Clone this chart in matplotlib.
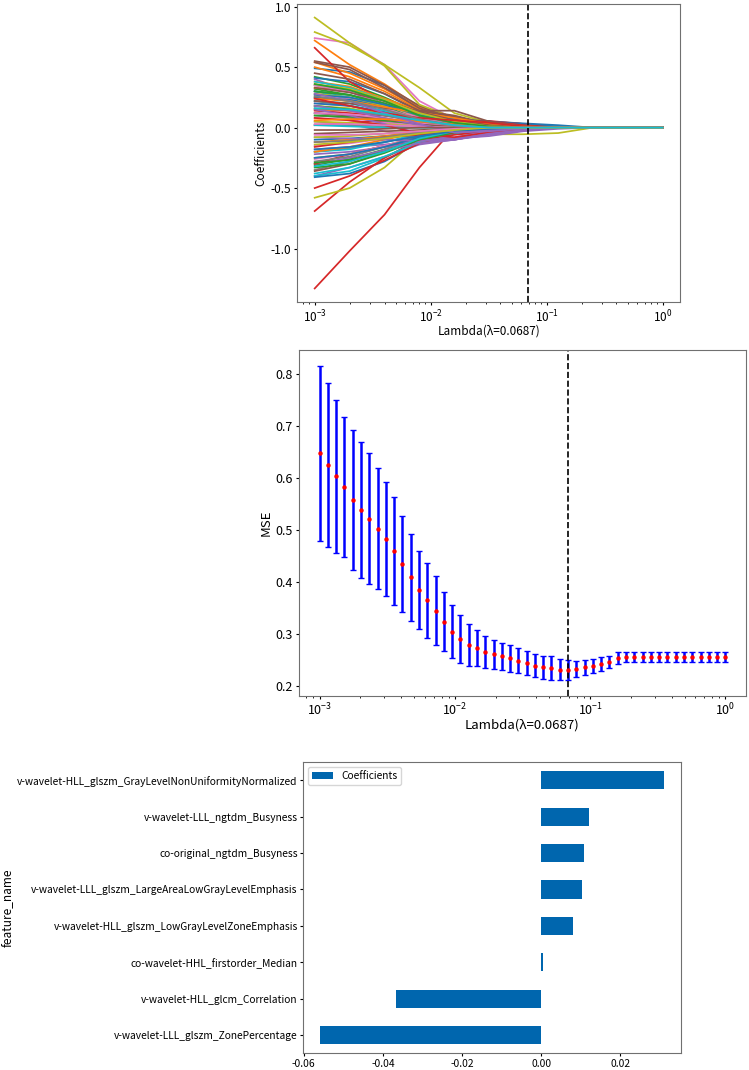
import matplotlib
matplotlib.use("Agg")
import matplotlib.pyplot as plt
from matplotlib import font_manager

plt.rcParams['font.family'] = ['Noto Sans CJK SC', 'DejaVu Sans']
plt.rcParams['axes.unicode_minus'] = False

# ---------------- data: coefficient paths (top panel) ----------------
path_lambdas = [0.001, 0.002, 0.004, 0.008, 0.016, 0.032, 0.063, 0.126, 0.251, 1.0]

paths_block1 = [
    [0.49, 0.46, 0.35, 0.15, 0.08, 0.05, 0.035, 0.02, 0.0, 0.0],
    [0.72, 0.52, 0.36, 0.17, 0.07, 0.03, 0.01, 0.0, 0.0, 0.0],
    [0.42, 0.36, 0.25, 0.12, 0.05, 0.02, 0.0, 0.0, 0.0, 0.0],
    [-1.33, -1.02, -0.72, -0.33, 0.0, 0.0, 0.0, 0.0, 0.0, 0.0],
    [-0.40, -0.33, -0.24, -0.14, -0.10, -0.05, -0.02, 0.0, 0.0, 0.0],
    [0.55, 0.50, 0.35, 0.18, 0.07, 0.02, 0.0, 0.0, 0.0, 0.0],
    [0.74, 0.70, 0.52, 0.22, 0.07, 0.03, 0.01, 0.0, 0.0, 0.0],
    [0.10, 0.08, 0.05, 0.02, 0.0, 0.0, 0.0, 0.0, 0.0, 0.0],
    [0.91, 0.70, 0.51, 0.19, 0.08, 0.047, 0.02, 0.005, 0.0, 0.0],
    [-0.40, -0.36, -0.25, -0.10, -0.04, -0.01, 0.0, 0.0, 0.0, 0.0],
]
paths_block2 = [
    [0.41, 0.38, 0.28, 0.13, 0.06, 0.03, 0.01, 0.0, 0.0, 0.0],
    [0.54, 0.45, 0.32, 0.16, 0.06, 0.02, 0.0, 0.0, 0.0, 0.0],
    [-0.31, -0.26, -0.18, -0.09, -0.03, 0.0, 0.0, 0.0, 0.0, 0.0],
    [-0.69, -0.45, -0.25, -0.10, -0.04, -0.01, 0.0, 0.0, 0.0, 0.0],
    [0.40, 0.30, 0.18, 0.07, 0.02, 0.0, 0.0, 0.0, 0.0, 0.0],
    [0.30, 0.24, 0.18, 0.14, 0.10, 0.03, 0.01, 0.0, 0.0, 0.0],
    [0.20, 0.18, 0.12, 0.06, 0.02, 0.0, 0.0, 0.0, 0.0, 0.0],
    [-0.35, -0.28, -0.18, -0.08, -0.03, 0.0, 0.0, 0.0, 0.0, 0.0],
    [-0.58, -0.50, -0.33, -0.08, -0.05, -0.055, -0.055, -0.045, 0.0, 0.0],
    [0.30, 0.25, 0.17, 0.08, 0.03, 0.01, 0.0, 0.0, 0.0, 0.0],
]
paths_block3 = [
    [0.30, 0.27, 0.20, 0.10, 0.05, 0.04, 0.03, 0.0, 0.0, 0.0],
    [0.50, 0.42, 0.30, 0.15, 0.07, 0.03, 0.01, 0.0, 0.0, 0.0],
    [0.32, 0.27, 0.18, 0.08, 0.03, 0.01, 0.0, 0.0, 0.0, 0.0],
    [0.66, 0.38, 0.22, 0.10, 0.04, 0.01, 0.0, 0.0, 0.0, 0.0],
    [-0.22, -0.20, -0.16, -0.12, -0.09, -0.04, -0.01, 0.0, 0.0, 0.0],
    [-0.36, -0.30, -0.20, -0.10, -0.04, -0.01, 0.0, 0.0, 0.0, 0.0],
    [-0.15, -0.13, -0.09, -0.05, -0.02, 0.0, 0.0, 0.0, 0.0, 0.0],
    [0.22, 0.18, 0.12, 0.06, 0.02, 0.0, 0.0, 0.0, 0.0, 0.0],
    [0.79, 0.68, 0.52, 0.33, 0.12, 0.04, 0.015, 0.005, 0.0, 0.0],
    [0.12, 0.10, 0.07, 0.03, 0.01, 0.0, 0.0, 0.0, 0.0, 0.0],
]
paths_block4 = [
    [-0.41, -0.38, -0.28, -0.12, -0.05, -0.02, 0.0, 0.0, 0.0, 0.0],
    [0.33, 0.30, 0.22, 0.12, 0.06, 0.02, 0.0, 0.0, 0.0, 0.0],
    [0.25, 0.22, 0.16, 0.08, 0.03, 0.01, 0.0, 0.0, 0.0, 0.0],
    [-0.50, -0.40, -0.27, -0.13, -0.05, -0.02, 0.0, 0.0, 0.0, 0.0],
    [0.05, 0.03, -0.03, -0.08, -0.10, -0.06, -0.02, 0.0, 0.0, 0.0],
    [0.54, 0.48, 0.33, 0.16, 0.07, 0.02, 0.0, 0.0, 0.0, 0.0],
    [0.08, 0.06, 0.04, 0.02, 0.01, 0.0, 0.0, 0.0, 0.0, 0.0],
    [-0.20, -0.17, -0.12, -0.06, -0.02, 0.0, 0.0, 0.0, 0.0, 0.0],
    [-0.25, -0.22, -0.15, -0.07, -0.03, 0.0, 0.0, 0.0, 0.0, 0.0],
    [-0.38, -0.33, -0.24, -0.12, -0.05, -0.02, 0.0, 0.0, 0.0, 0.0],
]
paths_block5 = [
    [0.20, 0.18, 0.13, 0.07, 0.03, 0.01, 0.0, 0.0, 0.0, 0.0],
    [0.15, 0.14, 0.12, 0.10, 0.06, 0.02, 0.0, 0.0, 0.0, 0.0],
    [-0.33, -0.30, -0.21, -0.10, -0.04, -0.01, 0.0, 0.0, 0.0, 0.0],
    [0.02, 0.04, 0.06, 0.07, 0.06, 0.055, 0.03, 0.0, 0.0, 0.0],
    [-0.30, -0.25, -0.19, -0.13, -0.10, -0.05, -0.015, 0.0, 0.0, 0.0],
    [-0.05, -0.04, -0.03, -0.02, -0.01, 0.0, 0.0, 0.0, 0.0, 0.0],
    [0.28, 0.24, 0.16, 0.07, 0.02, 0.0, 0.0, 0.0, 0.0, 0.0],
    [0.35, 0.30, 0.20, 0.09, 0.03, 0.01, 0.0, 0.0, 0.0, 0.0],
    [0.18, 0.16, 0.11, 0.05, 0.02, 0.0, 0.0, 0.0, 0.0, 0.0],
    [0.22, 0.20, 0.14, 0.06, 0.02, 0.0, 0.0, 0.0, 0.0, 0.0],
]
paths_block6 = [
    [-0.10, -0.09, -0.07, -0.04, -0.02, -0.01, 0.0, 0.0, 0.0, 0.0],
    [0.38, 0.34, 0.24, 0.14, 0.08, 0.04, 0.01, 0.0, 0.0, 0.0],
    [0.10, 0.09, 0.06, 0.03, 0.01, 0.0, 0.0, 0.0, 0.0, 0.0],
    [-0.30, -0.22, -0.15, -0.10, -0.06, -0.03, -0.01, 0.0, 0.0, 0.0],
    [-0.18, -0.16, -0.14, -0.11, -0.08, -0.03, 0.0, 0.0, 0.0, 0.0],
    [0.12, 0.10, 0.07, 0.03, 0.01, 0.0, 0.0, 0.0, 0.0, 0.0],
    [-0.26, -0.22, -0.15, -0.07, -0.02, 0.0, 0.0, 0.0, 0.0, 0.0],
    [0.02, 0.02, 0.01, 0.0, 0.0, 0.0, 0.0, 0.0, 0.0, 0.0],
    [0.05, 0.04, 0.03, 0.01, 0.0, 0.0, 0.0, 0.0, 0.0, 0.0],
    [-0.20, -0.18, -0.12, -0.05, -0.02, 0.0, 0.0, 0.0, 0.0, 0.0],
]
paths_block7 = [
    [0.25, 0.23, 0.18, 0.11, 0.07, 0.05, 0.03, 0.01, 0.0, 0.0],
    [-0.12, -0.10, -0.07, -0.04, -0.02, 0.0, 0.0, 0.0, 0.0, 0.0],
    [0.18, 0.15, 0.10, 0.05, 0.02, 0.0, 0.0, 0.0, 0.0, 0.0],
    [0.14, 0.12, 0.10, 0.08, 0.06, 0.05, 0.02, 0.0, 0.0, 0.0],
    [0.15, 0.10, 0.03, -0.05, -0.09, -0.07, -0.03, -0.01, 0.0, 0.0],
    [0.22, 0.20, 0.16, 0.14, 0.09, 0.03, 0.01, 0.0, 0.0, 0.0],
    [0.35, 0.30, 0.19, 0.08, 0.02, 0.0, 0.0, 0.0, 0.0, 0.0],
    [-0.28, -0.24, -0.16, -0.07, -0.02, 0.0, 0.0, 0.0, 0.0, 0.0],
    [0.28, 0.25, 0.18, 0.10, 0.04, 0.01, 0.0, 0.0, 0.0, 0.0],
    [0.02, 0.01, 0.0, 0.0, 0.0, 0.0, 0.0, 0.0, 0.0, 0.0],
]
paths_block8 = [
    [-0.25, -0.22, -0.16, -0.08, -0.03, 0.0, 0.0, 0.0, 0.0, 0.0],
    [-0.20, -0.16, -0.10, -0.04, -0.01, 0.0, 0.0, 0.0, 0.0, 0.0],
    [0.30, 0.27, 0.20, 0.11, 0.05, 0.02, 0.0, 0.0, 0.0, 0.0],
    [0.08, 0.06, 0.02, -0.05, -0.08, -0.04, -0.01, 0.0, 0.0, 0.0],
    [-0.08, -0.09, -0.10, -0.11, -0.10, -0.05, -0.02, 0.0, 0.0, 0.0],
    [0.45, 0.40, 0.28, 0.14, 0.14, 0.05, 0.01, 0.0, 0.0, 0.0],
    [0.12, 0.11, 0.08, 0.04, 0.02, 0.0, 0.0, 0.0, 0.0, 0.0],
    [0.16, 0.14, 0.10, 0.05, 0.02, 0.0, 0.0, 0.0, 0.0, 0.0],
    [-0.08, -0.07, -0.05, -0.03, -0.01, 0.0, 0.0, 0.0, 0.0, 0.0],
    [0.38, 0.33, 0.23, 0.11, 0.04, 0.01, 0.0, 0.0, 0.0, 0.0],
]
paths_block9 = [
    [0.27, 0.25, 0.19, 0.10, 0.04, 0.01, 0.0, 0.0, 0.0, 0.0],
    [0.24, 0.22, 0.17, 0.12, 0.08, 0.03, 0.01, 0.0, 0.0, 0.0],
    [-0.29, -0.27, -0.20, -0.10, -0.04, -0.01, 0.0, 0.0, 0.0, 0.0],
    [-0.16, -0.12, -0.08, -0.06, -0.04, -0.02, 0.0, 0.0, 0.0, 0.0],
    [0.18, 0.14, 0.08, 0.02, -0.03, -0.02, 0.0, 0.0, 0.0, 0.0],
    [0.33, 0.29, 0.22, 0.13, 0.06, 0.02, 0.0, 0.0, 0.0, 0.0],
    [0.03, 0.03, 0.02, 0.01, 0.0, 0.0, 0.0, 0.0, 0.0, 0.0],
    [-0.12, -0.11, -0.08, -0.04, -0.01, 0.0, 0.0, 0.0, 0.0, 0.0],
    [0.36, 0.32, 0.23, 0.12, 0.05, 0.01, 0.0, 0.0, 0.0, 0.0],
    [-0.32, -0.28, -0.20, -0.09, -0.03, 0.0, 0.0, 0.0, 0.0, 0.0],
]
paths_block10 = [
    [-0.18, -0.16, -0.12, -0.07, -0.03, -0.01, 0.0, 0.0, 0.0, 0.0],
    [0.06, 0.07, 0.07, 0.05, 0.03, 0.01, 0.0, 0.0, 0.0, 0.0],
    [0.36, 0.31, 0.22, 0.10, 0.04, 0.01, 0.0, 0.0, 0.0, 0.0],
    [0.24, 0.18, 0.12, 0.08, 0.06, 0.04, 0.01, 0.0, 0.0, 0.0],
    [0.28, 0.22, 0.12, 0.03, -0.04, -0.03, -0.01, 0.0, 0.0, 0.0],
    [-0.02, -0.02, -0.01, 0.0, 0.0, 0.0, 0.0, 0.0, 0.0, 0.0],
    [-0.06, -0.06, -0.05, -0.03, -0.01, 0.0, 0.0, 0.0, 0.0, 0.0],
    [0.26, 0.22, 0.15, 0.07, 0.02, 0.0, 0.0, 0.0, 0.0, 0.0],
    [-0.14, -0.12, -0.09, -0.05, -0.02, 0.0, 0.0, 0.0, 0.0, 0.0],
    [0.16, 0.15, 0.11, 0.06, 0.02, 0.0, 0.0, 0.0, 0.0, 0.0],
]

best_lambda = 0.0687

# ---------------- data: cross-validation MSE (middle panel) ----------------
cv_lambdas = [
    0.001, 0.001151, 0.001326, 0.001526, 0.001758, 0.002024, 0.002330, 0.002683,
    0.003089, 0.003556, 0.004095, 0.004715, 0.005429, 0.006251, 0.007197, 0.008286,
    0.009541, 0.010985, 0.012649, 0.014563, 0.016768, 0.019307, 0.022230, 0.025595,
    0.029471, 0.033932, 0.039069, 0.044984, 0.051795, 0.059636, 0.068665, 0.079060,
    0.091030, 0.104811, 0.120679, 0.138950, 0.159986, 0.184207, 0.212095, 0.244205,
    0.281177, 0.323746, 0.372759, 0.429193, 0.494171, 0.568987, 0.655129, 0.754312,
    0.868511, 1.0,
]
mse_mean = [
    0.648, 0.625, 0.604, 0.583, 0.558, 0.539, 0.522, 0.503, 0.483, 0.460,
    0.435, 0.409, 0.385, 0.365, 0.345, 0.324, 0.305, 0.290, 0.279, 0.273,
    0.266, 0.261, 0.258, 0.254, 0.249, 0.244, 0.239, 0.236, 0.235, 0.232,
    0.231, 0.233, 0.236, 0.239, 0.243, 0.247, 0.254, 0.256, 0.256, 0.256,
    0.256, 0.256, 0.256, 0.256, 0.256, 0.256, 0.256, 0.256, 0.256, 0.256,
]
mse_std = [
    0.168, 0.157, 0.147, 0.135, 0.135, 0.131, 0.126, 0.117, 0.110, 0.103,
    0.092, 0.083, 0.075, 0.072, 0.066, 0.057, 0.051, 0.046, 0.041, 0.035,
    0.031, 0.028, 0.026, 0.026, 0.024, 0.023, 0.022, 0.022, 0.023, 0.020,
    0.019, 0.016, 0.014, 0.013, 0.013, 0.012, 0.012, 0.010, 0.010, 0.010,
    0.010, 0.010, 0.010, 0.010, 0.010, 0.010, 0.010, 0.010, 0.010, 0.010,
]

# ---------------- data: selected features (bottom panel) ----------------
feature_names = [
    "v-wavelet-LLL_glszm_ZonePercentage",
    "v-wavelet-HLL_glcm_Correlation",
    "co-wavelet-HHL_firstorder_Median",
    "v-wavelet-HLL_glszm_LowGrayLevelZoneEmphasis",
    "v-wavelet-LLL_glszm_LargeAreaLowGrayLevelEmphasis",
    "co-original_ngtdm_Busyness",
    "v-wavelet-LLL_ngtdm_Busyness",
    "v-wavelet-HLL_glszm_GrayLevelNonUniformityNormalized",
]
feature_coefs = [-0.0558, -0.0366, 0.0005, 0.0079, 0.0102, 0.0107, 0.0121, 0.0309]

# ---------------- figure ----------------
W, H = 749, 1070
fig = plt.figure(figsize=(W / 100, H / 100), dpi=100)

def rect(l, t, r, b):
    return [l / W, (H - b) / H, (r - l) / W, (b - t) / H]

spine_col = '#707070'
tab10 = plt.rcParams['axes.prop_cycle'].by_key()['color']

names = {f.name for f in font_manager.fontManager.ttflist}
if 'Liberation Sans Narrow' in names:
    narrow = ['Liberation Sans Narrow', 'DejaVu Sans']
    narrow_size = 9.5
else:
    narrow = ['Noto Sans CJK SC', 'DejaVu Sans']
    narrow_size = 7.35

# --- top panel
ax1 = fig.add_axes(rect(297.3, 4, 680, 302))
all_paths = (paths_block1 + paths_block2 + paths_block3 + paths_block4 +
             paths_block5 + paths_block6 + paths_block7 + paths_block8 +
             paths_block9 + paths_block10)
for i, p in enumerate(all_paths):
    ax1.plot(path_lambdas, p, '-', color=tab10[i % 10], lw=1.25)
ax1.set_xscale('log')
ax1.axvline(best_lambda, color='black', ls='--', lw=1.2)
ax1.set_xlabel('Lambda(λ=0.0687)', fontsize=8.5, labelpad=0)
ax1.set_ylabel('Coefficients', fontsize=8.5, labelpad=2)
ax1.tick_params(labelsize=8.5, length=2.5, pad=2)
ax1.tick_params(which='minor', length=1.5)

# --- middle panel
ax2 = fig.add_axes(rect(299.3, 350, 745.7, 695.7))
ax2.errorbar(cv_lambdas, mse_mean, yerr=mse_std, fmt='o', ms=2.2,
             mfc='r', mec='r', ecolor='b', elinewidth=1.8, capsize=2,
             capthick=1)
ax2.set_xscale('log')
ax2.axvline(best_lambda, color='black', ls='--', lw=1.2)
ax2.set_xlabel('Lambda(λ=0.0687)', fontsize=9.5, labelpad=0)
ax2.set_ylabel('MSE', fontsize=9.5, labelpad=2)
ax2.tick_params(labelsize=9, length=2.5, pad=2)
ax2.tick_params(which='minor', length=1.5)

# --- bottom panel
ax3 = fig.add_axes(rect(303.3, 762, 680.7, 1053.3))
ypos = list(range(len(feature_names)))
ax3.barh(ypos, feature_coefs, height=0.5, color='#0066ae', label='Coefficients')
ax3.set_ylim(-0.5, len(feature_names) - 0.5)
ax3.set_yticks(ypos)
ax3.set_yticklabels(feature_names, family=narrow, fontsize=narrow_size)
for lab in ax3.get_xticklabels():
    lab.set_family(narrow)
    lab.set_fontsize(narrow_size)
ax3.tick_params(length=2.5, pad=1.5)
ax3.set_ylabel('feature_name', fontsize=8.5)
ax3.yaxis.set_label_coords((14.0 - 303.3) / (680.7 - 303.3), 0.5)
ax3.legend(loc='upper left', prop={'family': narrow, 'size': narrow_size})

for ax in (ax1, ax2, ax3):
    for s in ax.spines.values():
        s.set_edgecolor(spine_col)

fig.savefig('out.png', dpi=100)
